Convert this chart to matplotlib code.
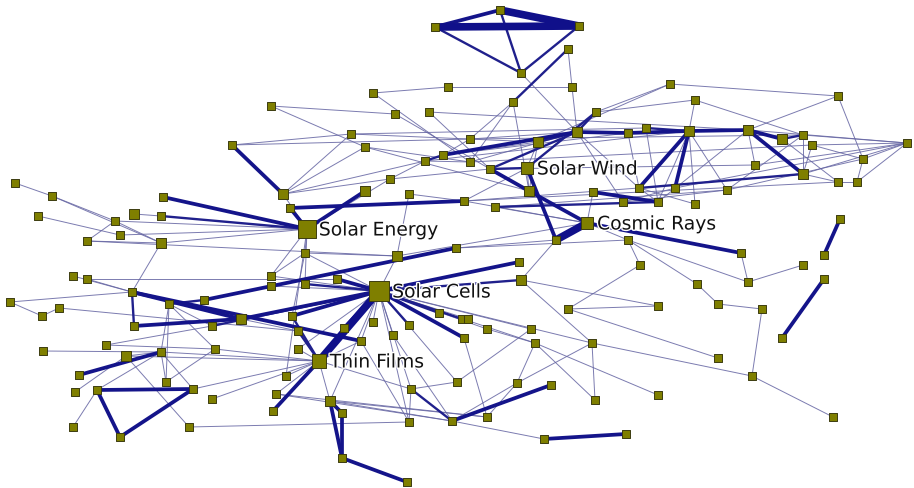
import matplotlib.pyplot as plt
import matplotlib.patheffects as pe

# node positions (layout coordinates, y grows downward) and node weight class
node_xy = {
    # labelled hubs
    "SE": (307, 230), "SW": (527, 169), "CR": (587, 224), "SC": (379, 292), "TF": (319, 362),
    # top triangle
    "t1": (435, 28), "t2": (500, 11), "t3": (579, 27), "t4": (521, 74),
    # upper left
    "u1": (448, 88), "u2": (373, 94), "u3": (271, 107), "u4": (395, 115), "u5": (429, 113),
    "u6": (351, 135), "u7": (232, 146), "u8": (365, 148), "u9": (443, 156), "u10": (425, 162),
    "u11": (390, 180), "u12": (365, 192), "u13": (409, 195), "u14": (283, 195), "u15": (290, 209),
    # far left
    "l1": (15, 184), "l2": (52, 197), "l3": (163, 198), "l4": (38, 217), "l5": (134, 215),
    "l6": (161, 217), "l7": (115, 222), "l8": (120, 236), "l9": (87, 242), "l10": (161, 244),
    # middle band
    "m1": (305, 254), "m2": (397, 257), "m3": (456, 249), "m4": (73, 277), "m5": (87, 280),
    "m6": (271, 277), "m7": (271, 287), "m8": (305, 285), "m9": (337, 280), "m10": (132, 293),
    "m11": (10, 303), "m12": (204, 301), "m13": (169, 305), "m14": (59, 309), "m15": (42, 317),
    "m16": (241, 320), "m17": (292, 317), "m18": (134, 327), "m19": (212, 327), "m20": (373, 323),
    "m21": (409, 326), "m22": (439, 314), "m23": (344, 329), "m24": (298, 332), "m25": (393, 336),
    "m26": (361, 342), "m27": (106, 346), "m28": (298, 350), "m29": (215, 350), "m30": (43, 352),
    "m31": (161, 353), "m32": (126, 357),
    # lower left
    "b1": (79, 376), "b2": (286, 377), "b3": (166, 383), "b4": (457, 383), "b5": (411, 390),
    "b6": (75, 393), "b7": (97, 391), "b8": (193, 390), "b9": (276, 395), "b10": (212, 400),
    "b11": (330, 402), "b12": (342, 414), "b13": (273, 412), "b14": (409, 423), "b15": (452, 422),
    "b16": (73, 428), "b17": (189, 428), "b18": (120, 438), "b19": (342, 459), "b20": (407, 483),
    # lower right
    "r1": (556, 241), "r2": (628, 241), "r3": (741, 254), "r4": (824, 256), "r5": (519, 263),
    "r6": (640, 266), "r7": (803, 266), "r8": (748, 283), "r9": (824, 280), "r10": (521, 281),
    "r11": (697, 285), "r12": (718, 305), "r13": (762, 310), "r14": (658, 307), "r16": (568, 310),
    "r17": (462, 320), "r18": (468, 320), "r19": (487, 330), "r20": (531, 330), "r21": (464, 339),
    "r22": (535, 344), "r23": (592, 344), "r24": (782, 339), "r25": (718, 359), "r26": (752, 377),
    "r28": (517, 384), "r29": (551, 386), "r30": (595, 401), "r31": (658, 396), "r32": (487, 418),
    "r34": (833, 418), "r35": (544, 440), "r36": (626, 435), "r37": (840, 220),
    # upper right cluster
    "k1": (670, 85), "k2": (838, 97), "k3": (695, 101), "k4": (596, 113), "k5": (577, 133),
    "k6": (628, 134), "k7": (646, 129), "k8": (689, 132), "k9": (748, 131), "k10": (782, 140),
    "k11": (803, 136), "k12": (812, 146), "k13": (907, 144), "k14": (863, 160), "k15": (803, 175),
    "k16": (838, 183), "k17": (857, 183), "k18": (755, 166), "k19": (470, 140), "k20": (538, 143),
    "k21": (470, 163), "k22": (490, 170), "k23": (529, 192), "k24": (639, 189), "k25": (675, 189),
    "k26": (727, 191), "k27": (593, 193), "k28": (464, 202), "k29": (495, 208), "k30": (623, 203),
    "k31": (658, 203), "k32": (695, 205), "k33": (513, 103), "k34": (572, 88), "k35": (568, 50),
}

hub_size = {"SC": 220, "SE": 155, "TF": 110, "CR": 85, "SW": 78}
mid_nodes = ["k5", "k8", "k9", "k20", "k23", "u14", "l5", "l10", "m2", "m16", "m32",
             "r10", "b11", "k15", "u12", "k10"]

labels = {"SE": "Solar Energy", "SW": "Solar Wind", "CR": "Cosmic Rays",
          "SC": "Solar Cells", "TF": "Thin Films"}

# edges: (from, to, strength)  1 = weak ... 4 = strongest
edges = [
    ("t1", "t2", 3), ("t1", "t3", 4), ("t2", "t3", 4), ("t1", "t4", 2), ("t2", "t4", 2), ("t3", "t4", 2),
    ("k35", "k33", 2), ("k35", "k34", 1), ("u1", "k34", 1), ("u2", "u1", 1), ("t4", "k5", 1),
    ("k34", "k5", 1), ("k33", "k23", 1), ("k33", "k21", 1), ("k33", "k19", 1),
    ("u2", "k21", 1), ("u3", "u4", 1), ("u3", "u8", 1), ("u7", "u6", 1), ("u6", "k20", 1),
    ("u7", "k19", 1), ("u7", "u14", 3), ("u14", "u6", 1), ("u14", "u8", 1), ("u14", "u10", 1),
    ("u14", "u11", 1), ("u15", "k28", 3), ("u15", "SE", 3), ("SE", "u12", 3), ("u11", "u10", 1),
    ("u11", "k22", 1), ("u9", "u10", 2), ("u9", "k5", 3), ("u9", "k19", 1), ("u10", "k21", 1),
    ("u4", "k22", 1), ("u5", "k22", 1), ("u8", "k21", 1), ("u8", "k23", 1), ("u13", "k28", 1),
    ("u13", "m2", 1), ("u5", "k9", 1), ("u10", "k8", 1), ("u9", "k6", 1), ("u6", "k7", 1),
    ("l1", "l2", 1), ("l2", "l7", 1), ("l2", "l10", 1), ("l4", "l8", 1), ("l7", "l9", 1),
    ("l7", "l10", 1), ("l7", "SE", 1), ("l8", "SE", 1), ("l9", "l10", 1), ("l10", "SE", 1),
    ("l10", "m10", 1), ("l3", "SE", 3), ("l6", "SE", 2), ("l5", "l6", 1), ("l9", "m2", 1),
    ("SE", "m1", 1), ("SE", "m6", 1), ("SE", "m8", 1), ("SE", "b2", 1), ("SE", "u14", 1),
    ("SE", "u11", 1), ("m1", "m6", 1), ("m1", "m2", 1), ("m1", "SC", 1), ("m1", "m17", 1),
    ("m2", "SC", 1), ("m3", "m12", 3), ("m3", "r1", 1), ("m3", "r2", 1),
    ("m5", "m10", 1), ("m5", "m9", 1), ("m4", "m10", 1), ("m10", "m11", 1), ("m11", "m15", 1),
    ("m15", "m14", 1), ("m14", "m24", 1), ("m10", "m18", 2), ("m10", "m16", 3), ("m10", "m26", 3),
    ("m13", "m12", 2), ("m13", "m31", 1), ("m13", "b3", 1), ("m13", "m29", 1), ("m13", "m19", 1),
    ("m16", "m18", 3), ("m16", "SC", 3), ("m16", "m24", 1), ("m17", "SC", 3), ("m17", "TF", 2),
    ("m19", "m27", 1), ("m19", "SC", 2), ("m20", "SC", 1), ("m21", "SC", 2), ("m22", "SC", 2),
    ("m23", "SC", 3), ("m24", "TF", 2), ("m25", "SC", 1), ("m26", "SC", 1), ("m26", "TF", 1),
    ("m28", "TF", 1), ("m6", "SC", 1), ("m7", "SC", 1), ("m8", "SC", 2), ("m9", "SC", 3),
    ("m30", "m31", 1), ("m31", "b1", 3), ("m31", "m32", 1), ("m31", "b3", 1), ("m31", "b8", 1),
    ("m31", "TF", 1), ("m32", "b17", 1), ("m32", "b6", 1), ("m27", "m29", 1),
    ("b7", "b8", 3), ("b7", "b18", 3), ("b18", "b8", 3), ("b7", "b16", 1), ("b7", "m31", 1),
    ("b8", "TF", 1), ("b10", "TF", 1), ("b17", "b14", 1), ("b3", "m29", 1),
    ("SC", "TF", 4), ("TF", "b13", 3), ("TF", "b2", 1), ("TF", "b9", 1), ("TF", "b11", 1),
    ("TF", "b5", 1), ("TF", "m32", 1), ("TF", "m29", 1),
    ("b11", "b12", 3), ("b11", "b19", 3), ("b12", "b19", 3), ("b19", "b20", 3), ("b11", "b15", 1),
    ("b9", "b15", 1), ("b5", "b15", 2), ("b5", "b14", 1), ("b4", "b5", 1), ("b15", "r29", 3),
    ("b15", "r35", 1), ("b11", "r32", 1), ("b9", "r32", 1), ("m26", "b14", 1), ("m25", "b15", 1),
    ("SC", "b5", 1), ("SC", "b14", 1), ("SC", "b4", 1), ("SC", "m28", 1), ("SC", "b11", 1),
    ("SC", "r22", 1), ("SC", "r23", 1),
    ("r1", "r10", 1), ("r2", "r6", 1), ("r2", "r11", 1), ("r2", "r8", 1), ("r3", "r8", 1),
    ("r8", "r7", 1), ("CR", "r3", 3), ("r37", "r4", 3), ("r9", "r24", 3), ("r11", "r12", 1),
    ("r12", "r13", 1), ("r13", "r26", 1), ("r26", "r34", 1), ("r23", "r26", 1), ("r16", "r25", 1),
    ("r16", "r14", 1), ("r6", "r16", 1), ("r10", "r14", 1), ("r10", "r23", 1), ("r22", "r28", 1),
    ("r22", "r30", 1), ("r22", "r31", 1), ("r23", "r28", 1), ("r23", "r30", 1), ("r19", "r22", 1),
    ("r21", "r32", 1), ("r35", "r36", 3), ("r5", "SC", 3), ("r10", "SC", 2), ("r17", "SC", 2),
    ("r18", "SC", 1), ("r19", "SC", 1), ("r20", "SC", 1), ("r21", "SC", 3), ("r28", "r32", 1),
    ("r28", "b15", 1), ("r20", "b4", 1),
    ("CR", "r1", 4), ("CR", "k23", 3), ("CR", "k27", 1), ("CR", "k29", 1), ("CR", "r2", 1),
    ("CR", "m2", 1), ("CR", "k28", 1),
    ("SW", "r1", 3), ("SW", "k22", 2), ("SW", "k4", 2), ("SW", "k23", 1), ("SW", "k20", 1),
    ("SW", "k28", 1),
    ("k1", "k2", 1), ("k1", "k4", 1), ("k3", "k4", 1), ("k3", "k8", 1), ("k3", "k11", 1),
    ("k2", "k14", 1), ("k2", "k9", 1), ("k4", "k5", 2), ("k5", "k6", 3), ("k6", "k8", 3),
    ("k7", "k8", 2), ("k8", "k9", 3), ("k9", "k10", 3), ("k10", "k11", 2), ("k9", "k15", 3),
    ("k8", "k24", 3), ("k8", "k25", 3), ("k8", "k26", 1), ("k8", "k32", 1), ("k8", "k31", 1),
    ("k9", "k18", 1), ("k11", "k15", 1), ("k13", "k14", 1), ("k13", "k17", 1), ("k13", "k15", 1),
    ("k13", "k18", 1), ("k13", "k11", 1), ("k13", "k25", 1), ("k12", "k15", 1), ("k12", "k13", 1),
    ("k10", "k16", 1), ("k16", "k17", 1), ("k15", "k16", 1), ("k14", "k17", 1), ("k15", "k24", 2),
    ("k14", "k26", 1), ("k11", "k26", 1), ("k9", "k31", 1), ("k6", "k24", 1), ("k7", "k31", 1),
    ("k5", "k20", 2), ("k5", "k22", 2), ("k5", "k21", 1), ("k5", "k24", 1), ("k5", "k30", 1),
    ("k5", "k19", 1), ("k20", "k23", 1), ("k20", "u9", 1), ("k22", "k23", 3), ("k27", "k31", 3),
    ("k29", "k31", 2), ("k24", "k28", 1), ("k26", "k29", 1), ("k32", "k24", 1), ("k24", "k31", 1),
    ("k25", "k30", 1), ("k30", "k26", 1), ("k21", "k12", 1), ("k22", "k18", 1), ("k28", "k16", 1),
    ("k19", "k11", 1), ("k1", "k20", 1), ("k9", "k13", 1), ("k12", "k14", 1),
]

line_width = {1: 0.7, 2: 1.7, 3: 2.7, 4: 5.5}
line_color = {1: "#6464a2", 2: "#20208c", 3: "#14148a", 4: "#10108a"}

fig = plt.figure(figsize=(9.14, 4.89), dpi=100)
ax = fig.add_axes([0, 0, 1, 1])

for a, b, w in sorted(edges, key=lambda e: e[2]):
    xa, ya = node_xy[a]
    xb, yb = node_xy[b]
    ax.plot([xa, xb], [ya, yb], color=line_color[w], lw=line_width[w],
            alpha=0.85 if w == 1 else 1.0, solid_capstyle="butt", zorder=1)

names = list(node_xy)
xs = [node_xy[n][0] for n in names]
ys = [node_xy[n][1] for n in names]
sizes = [hub_size.get(n, 46 if n in mid_nodes else 33) for n in names]
ax.scatter(xs, ys, s=sizes, marker="s", c="#7f7f00", edgecolors="#3c3c10",
           linewidths=0.7, zorder=3)

for key, text in labels.items():
    x, y = node_xy[key]
    ax.text(x + 5 + (hub_size[key] ** 0.5) * 0.55, y + 1, text, fontsize=13.5,
            color="#111111", ha="left", va="center", zorder=4,
            path_effects=[pe.withStroke(linewidth=2, foreground="white")])

ax.set_xlim(0, 914)
ax.set_ylim(489, 0)
ax.axis("off")

fig.savefig("out.png", dpi=100, facecolor="white")
